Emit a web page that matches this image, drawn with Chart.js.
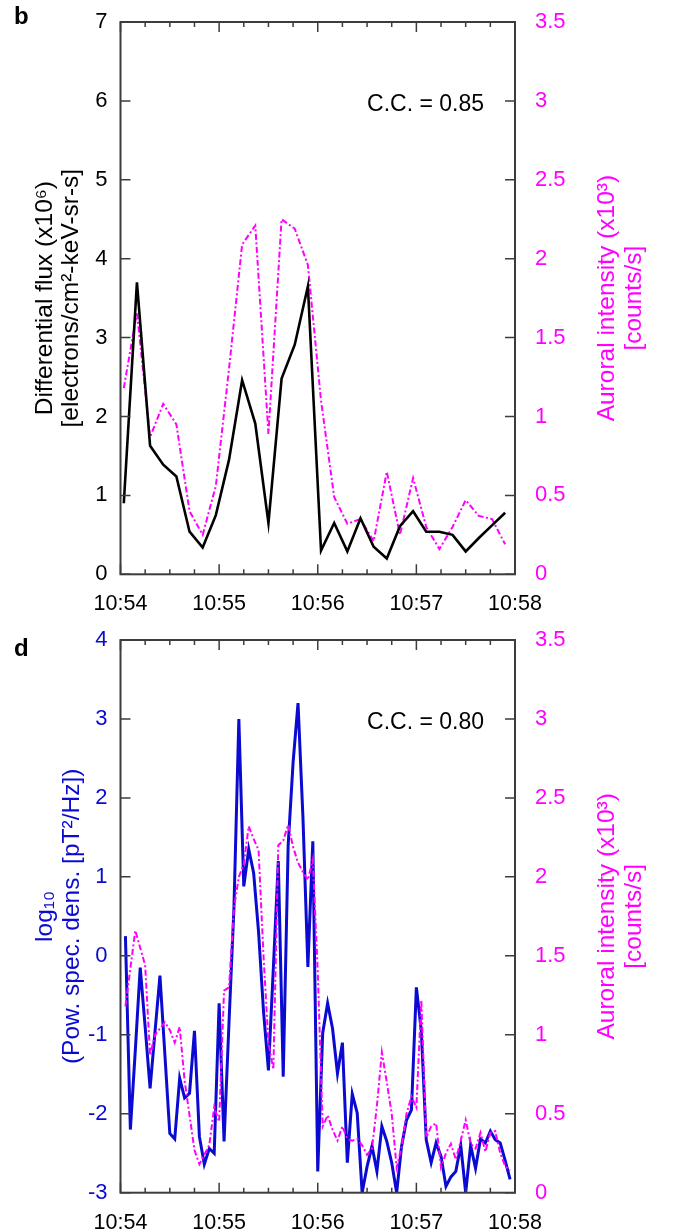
<!DOCTYPE html>
<html>
<head>
<meta charset="utf-8">
<script src="https://cdn.jsdelivr.net/npm/chart.js@4.4.1/dist/chart.umd.min.js"></script>
<style>
  html, body { margin: 0; padding: 0; background: #fff; }
  body { width: 683px; height: 1230px; position: relative; overflow: hidden; font-family: "Liberation Sans", Arial, sans-serif; }
  .panel { position: absolute; left: 0; width: 683px; }
  #wrapB { top: 0; height: 625px; }
  #wrapD { top: 625px; height: 605px; }
  .tag { position: absolute; left: 14px; font-weight: bold; font-size: 24px; line-height: 28px; }
</style>
</head>
<body>
<div class="panel" id="wrapB"><canvas id="chartB"></canvas></div>
<div class="panel" id="wrapD"><canvas id="chartD"></canvas></div>
<div class="tag" style="top:2px">b</div>
<div class="tag" style="top:634px">d</div>
<script>
// tick labels (seconds after 10:54 -> clock label)
const timeLabels = ["10:54", "10:55", "10:56", "10:57", "10:58"];

// panel b : differential flux (x10^6) and auroral intensity (x10^3), 8 s samples
const timesB = [2, 10, 18, 26, 34, 42, 50, 58, 66, 74, 82, 90, 98, 106, 114,
  122, 130, 138, 146, 154, 162, 170, 178, 186, 194, 202, 210, 218, 226, 234];
const fluxB = [0.90, 3.70, 1.63, 1.39, 1.24, 0.54, 0.34, 0.75, 1.45, 2.46,
  1.91, 0.65, 2.48, 2.91, 3.65, 0.30, 0.65, 0.29, 0.71, 0.35,
  0.20, 0.61, 0.80, 0.54, 0.54, 0.50, 0.29, 0.46, 0.62, 0.78];
const auroraB = [1.18, 1.66, 0.87, 1.08, 0.95, 0.40, 0.25, 0.56, 1.30, 2.09,
  2.21, 0.89, 2.25, 2.19, 1.96, 1.10, 0.49, 0.32, 0.35, 0.21,
  0.65, 0.25, 0.61, 0.30, 0.16, 0.30, 0.47, 0.37, 0.35, 0.19];

// panel d : log10 power spectral density and auroral intensity, 3 s samples
const timesD = [3, 6, 9, 12, 15, 18, 21, 24, 27, 30,
  33, 36, 39, 42, 45, 48, 51, 54, 57, 60,
  63, 66, 69, 72, 75, 78, 81, 84, 87, 90,
  93, 96, 99, 102, 105, 108, 111, 114, 117, 120,
  123, 126, 129, 132, 135, 138, 141, 144, 147, 150,
  153, 156, 159, 162, 165, 168, 171, 174, 177, 180,
  183, 186, 189, 192, 195, 198, 201, 204, 207, 210,
  213, 216, 219, 222, 225, 228, 231, 234, 237];
const powD = [0.25, -2.2, -1.2, -0.15, -0.9, -1.68, -0.96, -0.25, -1.25, -2.25,
  -2.32, -1.55, -1.8, -1.74, -0.95, -2.29, -2.64, -2.44, -2.5, -0.6,
  -2.35, -0.85, 0.6, 3.0, 0.88, 1.35, 1.05, 0.3, -0.7, -1.45,
  -0.15, 1.2, -1.53, 1.4, 2.45, 3.2, 1.75, -0.14, 1.45, -2.73,
  -0.98, -0.6, -0.92, -1.49, -1.1, -2.62, -1.75, -1.99, -3.0, -2.67,
  -2.41, -2.73, -2.16, -2.35, -2.62, -3.0, -2.41, -2.08, -1.95, -0.4,
  -0.95, -2.33, -2.62, -2.37, -2.54, -2.92, -2.8, -2.73, -2.4, -3.0,
  -2.4, -2.69, -2.32, -2.37, -2.22, -2.33, -2.37, -2.59, -2.83];
const auroraD = [1.18, 1.42, 1.66, 1.55, 1.44, 0.87, 1.0, 1.04, 1.08, 1.03,
  0.95, 1.05, 0.71, 0.49, 0.27, 0.18, 0.24, 0.3, 0.54, 0.45,
  1.28, 1.3, 1.8, 2.0, 2.08, 2.32, 2.24, 2.17, 1.5, 0.95,
  0.78, 2.2, 2.23, 2.33, 2.19, 2.09, 2.03, 1.98, 2.11, 1.4,
  0.42, 0.49, 0.40, 0.33, 0.42, 0.34, 0.33, 0.34, 0.3, 0.24,
  0.28, 0.55, 0.89, 0.7, 0.5, 0.16, 0.29, 0.5, 0.61, 0.54,
  1.22, 0.35, 0.42, 0.44, 0.16, 0.25, 0.31, 0.21, 0.33, 0.46,
  0.31, 0.28, 0.38, 0.26, 0.38, 0.39, 0.25, 0.17, 0.14];

const MAGENTA = "#ff00ff";
const BLUE = "#0a0ad0";
const FONT = '"Liberation Sans", Arial, sans-serif';

Chart.defaults.font.family = FONT;

function pts(xs, ys){
  return xs.map((x, i) => ({x: x, y: ys[i]}));
}

// fixed box sizes, no extra label overflow padding
function fixBox(w, h){
  return s => {
    if(w !== null) s.width = w;
    if(h !== null) s.height = h;
    s.paddingTop = 0; s.paddingBottom = 0; s.paddingLeft = 0; s.paddingRight = 0;
  };
}

// frame, inward ticks, axis titles and C.C. text
const framePlugin = {
  id: "frame",
  afterDraw(chart, args, o){
    const {ctx, chartArea: a, scales} = chart;
    ctx.save();
    ctx.strokeStyle = "#3c3c3c";
    ctx.lineWidth = 1.5;
    ctx.beginPath();
    scales.x.ticks.forEach(t => {
      const px = scales.x.getPixelForValue(t.value);
      const len = t.label ? 10 : 5;
      ctx.moveTo(px, a.bottom); ctx.lineTo(px, a.bottom - len);
      ctx.moveTo(px, a.top); ctx.lineTo(px, a.top + len);
    });
    scales.y.ticks.forEach(t => {
      const py = scales.y.getPixelForValue(t.value);
      ctx.moveTo(a.left, py); ctx.lineTo(a.left + 10, py);
    });
    scales.y1.ticks.forEach(t => {
      const py = scales.y1.getPixelForValue(t.value);
      ctx.moveTo(a.right, py); ctx.lineTo(a.right - 10, py);
    });
    ctx.stroke();
    ctx.lineWidth = 2;
    ctx.strokeRect(a.left, a.top, a.right - a.left, a.bottom - a.top);

    ctx.fillStyle = "#000";
    ctx.font = "23px " + FONT;
    ctx.textAlign = "right";
    ctx.textBaseline = "alphabetic";
    ctx.fillText(o.cc, a.right - 31, a.top + 88.5);

    const cy = (a.top + a.bottom) / 2;
    ctx.font = "24.5px " + FONT;
    ctx.textAlign = "center";
    ctx.textBaseline = "middle";
    const rot = (lines, xs, color) => {
      ctx.fillStyle = color;
      lines.forEach((s, i) => {
        ctx.save();
        ctx.translate(xs[i], cy);
        ctx.rotate(-Math.PI / 2);
        ctx.fillText(s, 0, 0);
        ctx.restore();
      });
    };
    rot(o.leftTitle, o.leftX, o.leftColor);
    rot(o.rightTitle, o.rightX, MAGENTA);
    ctx.restore();
  }
};

function makeChart(id, c){
  return new Chart(document.getElementById(id), {
    type: "line",
    data: { datasets: c.datasets },
    options: {
      animation: false,
      responsive: true,
      maintainAspectRatio: false,
      devicePixelRatio: 1,
      layout: { padding: { top: c.top, left: 0, right: 0, bottom: 0 } },
      plugins: { legend: { display: false }, tooltip: { enabled: false }, frame: c.frame },
      elements: { point: { radius: 0 }, line: { tension: 0 } },
      scales: {
        x: {
          type: "linear", min: 0, max: 240,
          grid: { display: false, drawTicks: false }, border: { display: false },
          ticks: {
            stepSize: 15, autoSkip: false, maxRotation: 0, padding: 17,
            color: "#000", font: { size: 21.5 },
            callback: v => (v % 60 === 0 ? timeLabels[v / 60] : "")
          },
          afterFit: fixBox(null, c.xh)
        },
        y: {
          position: "left", min: c.ymin, max: c.ymax,
          grid: { display: false, drawTicks: false }, border: { display: false },
          ticks: { stepSize: 1, padding: 13, color: c.leftColor, font: { size: 22 } },
          afterFit: fixBox(120.5, null)
        },
        y1: {
          position: "right", min: 0, max: 3.5,
          grid: { display: false, drawTicks: false }, border: { display: false },
          ticks: { stepSize: 0.5, padding: 20, color: MAGENTA, font: { size: 22 }, callback: v => String(v) },
          afterFit: fixBox(168, null)
        }
      }
    },
    plugins: [framePlugin]
  });
}

makeChart("chartB", {
  top: 22, xh: 50.7, ymin: 0, ymax: 7, leftColor: "#000",
  datasets: [
    { data: pts(timesB, fluxB), yAxisID: "y", borderColor: "#000", borderWidth: 2.6 },
    { data: pts(timesB, auroraB), yAxisID: "y1", borderColor: MAGENTA, borderWidth: 2, borderDash: [6, 2.5, 2, 2.5] }
  ],
  frame: {
    cc: "C.C. = 0.85",
    leftTitle: ["Differential flux (x10\u2076)", "[electrons/cm\u00b2-keV-sr-s]"],
    leftX: [45, 71], leftColor: "#000",
    rightTitle: ["Auroral intensity (x10\u00b3)", "[counts/s]"],
    rightX: [607, 634]
  }
});

makeChart("chartD", {
  top: 15, xh: 37.3, ymin: -3, ymax: 4, leftColor: BLUE,
  datasets: [
    { data: pts(timesD, auroraD), yAxisID: "y1", borderColor: MAGENTA, borderWidth: 2, borderDash: [6, 2.5, 2, 2.5] },
    { data: pts(timesD, powD), yAxisID: "y", borderColor: BLUE, borderWidth: 3 }
  ],
  frame: {
    cc: "C.C. = 0.80",
    leftTitle: ["log\u2081\u2080", "(Pow. spec. dens. [pT\u00b2/Hz])"],
    leftX: [45, 72], leftColor: BLUE,
    rightTitle: ["Auroral intensity (x10\u00b3)", "[counts/s]"],
    rightX: [607, 634]
  }
});
</script>
</body>
</html>
